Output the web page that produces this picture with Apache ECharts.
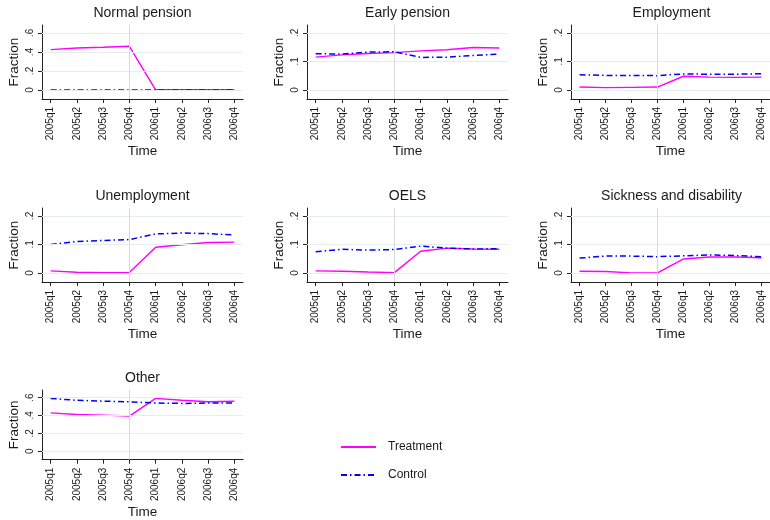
<!DOCTYPE html>
<html>
<head>
<meta charset="utf-8">
<script src="https://cdn.jsdelivr.net/npm/echarts@6/dist/echarts.min.js"></script>
<style>html,body{margin:0;padding:0;background:#fff;}#c{width:770px;height:520px;}</style>
</head>
<body>
<div id="c"></div>
<script>
const quarters = ['2005q1','2005q2','2005q3','2005q4','2006q1','2006q2','2006q3','2006q4'];
const panelTitles = ['Normal pension','Early pension','Employment','Unemployment','OELS','Sickness and disability','Other'];
const seriesNames = ['Treatment','Control'];

const treatNormal = [0.425,0.442,0.449,0.460,0.002,0.002,0.002,0.002];
const ctrlNormal  = [0.000,0.000,0.000,0.000,0.000,0.000,0.000,0.000];
const treatEarly  = [0.115,0.123,0.128,0.131,0.137,0.141,0.149,0.147];
const ctrlEarly   = [0.127,0.126,0.133,0.134,0.114,0.115,0.121,0.126];
const treatEmploy = [0.010,0.008,0.009,0.010,0.048,0.045,0.044,0.045];
const ctrlEmploy  = [0.053,0.051,0.051,0.050,0.056,0.055,0.055,0.057];
const treatUnemp  = [0.007,0.002,0.001,0.001,0.090,0.099,0.107,0.108];
const ctrlUnemp   = [0.100,0.110,0.114,0.117,0.137,0.140,0.138,0.133];
const treatOELS   = [0.007,0.006,0.003,0.001,0.076,0.087,0.084,0.083];
const ctrlOELS    = [0.074,0.083,0.080,0.082,0.094,0.087,0.084,0.085];
const treatSick   = [0.006,0.005,0.000,0.000,0.049,0.056,0.056,0.053];
const ctrlSick    = [0.052,0.059,0.059,0.057,0.060,0.063,0.061,0.057];
const treatOther  = [0.428,0.410,0.403,0.393,0.590,0.569,0.552,0.559];
const ctrlOther   = [0.590,0.569,0.559,0.552,0.538,0.534,0.538,0.538];

const yTicksWide = [0,0.2,0.4,0.6];
const yLabelsWide = ['0','.2','.4','.6'];
const yTicksNarrow = [0,0.1,0.2];
const yLabelsNarrow = ['0','.1','.2'];
const xlineQuarter = '2005q4';

const treatAll = [treatNormal,treatEarly,treatEmploy,treatUnemp,treatOELS,treatSick,treatOther];
const ctrlAll  = [ctrlNormal,ctrlEarly,ctrlEmploy,ctrlUnemp,ctrlOELS,ctrlSick,ctrlOther];
const wideScale = [true,false,false,false,false,false,true];

const FONT = "'Liberation Sans', Arial, Helvetica, sans-serif";
const colLefts = [42,307,571];
const rowTops = [25,208,390];
const titleTops = [6,189,371];
const gridW = 201, gridH = 74;

const chart = echarts.init(document.getElementById('c'), null, {renderer:'canvas'});
const grids=[], xAxes=[], yAxes=[], series=[], titles=[];

panelTitles.forEach((t,i)=>{
  const col = i%3, row = Math.floor(i/3);
  const wide = wideScale[i];
  const ticks = wide ? yTicksWide : yTicksNarrow;
  const labels = wide ? yLabelsWide : yLabelsNarrow;
  grids.push({left:colLefts[col], top:rowTops[row], width:gridW, height:gridH});
  titles.push({text:t, left:colLefts[col]+gridW/2, top:titleTops[row], textAlign:'center', padding:0,
    textStyle:{fontFamily:FONT, fontSize:14, fontWeight:'normal', color:'#1a1a1a'}});
  xAxes.push({type:'value', gridIndex:i, min:-0.33, max:quarters.length-1+0.33,
    name:'Time', nameLocation:'middle', nameGap:42,
    nameTextStyle:{fontFamily:FONT, fontSize:13.5, color:'#1a1a1a'},
    axisLine:{onZero:false, lineStyle:{color:'#222', width:1}},
    axisTick:{customValues:quarters.map((q,k)=>k), length:4, lineStyle:{color:'#222'}},
    axisLabel:{customValues:quarters.map((q,k)=>k), rotate:90, margin:8, fontFamily:FONT, fontSize:10, color:'#1a1a1a',
      formatter:v=>quarters[Math.round(v)]},
    splitLine:{show:false}});
  yAxes.push({type:'value', gridIndex:i, min: wide ? -0.095 : -0.032, max: wide ? 0.684 : 0.228,
    name:'Fraction', nameLocation:'middle', nameGap:21,
    nameTextStyle:{fontFamily:FONT, fontSize:13.5, color:'#1a1a1a'},
    axisLine:{show:true, onZero:false, lineStyle:{color:'#222', width:1}},
    axisTick:{show:true, customValues:ticks, length:4, lineStyle:{color:'#222'}},
    axisLabel:{customValues:ticks, rotate:90, margin:7, fontFamily:FONT, fontSize:10, color:'#1a1a1a',
      formatter:v=>{const k=ticks.findIndex(x=>Math.abs(x-v)<1e-9); return k>=0?labels[k]:'';}},
    splitLine:{show:false}});
  series.push({type:'line', name:'_grid'+i, xAxisIndex:i, yAxisIndex:i, data:[], silent:true, z:1,
    markLine:{silent:true, symbol:'none', animation:false, label:{show:false},
      data: ticks.map(v=>({yAxis:v, lineStyle:{color:'#e4eef0', width:1, type:'solid'}}))
        .concat([{xAxis:quarters.indexOf(xlineQuarter), lineStyle:{color:'#d9d9d9', width:1, type:'solid'}}])}});
  series.push({type:'line', name:seriesNames[0], xAxisIndex:i, yAxisIndex:i, z:3,
    data:treatAll[i].map((v,k)=>[k,v]), symbol:'none', animation:false,
    lineStyle:{color:'#ff00ff', width:1.4}, itemStyle:{color:'#ff00ff'}});
  series.push({type:'line', name:seriesNames[1], xAxisIndex:i, yAxisIndex:i, z:4,
    data:ctrlAll[i].map((v,k)=>[k,v]), symbol:'none', animation:false,
    lineStyle:{color:'#0000ff', width:1.5, type:[6,3,1.5,3]}, itemStyle:{color:'#0000ff'}});
});

chart.setOption({
  backgroundColor:'#ffffff',
  animation:false,
  title:titles,
  grid:grids, xAxis:xAxes, yAxis:yAxes, series:series,
  legend:{data:seriesNames, orient:'vertical', left:340, top:441, padding:0, itemWidth:35, itemHeight:14, itemGap:16,
    selectedMode:false, itemStyle:{opacity:0},
    textStyle:{fontFamily:FONT, fontSize:12, color:'#1a1a1a', padding:[0,0,0,7]}}
});
</script>
</body>
</html>
